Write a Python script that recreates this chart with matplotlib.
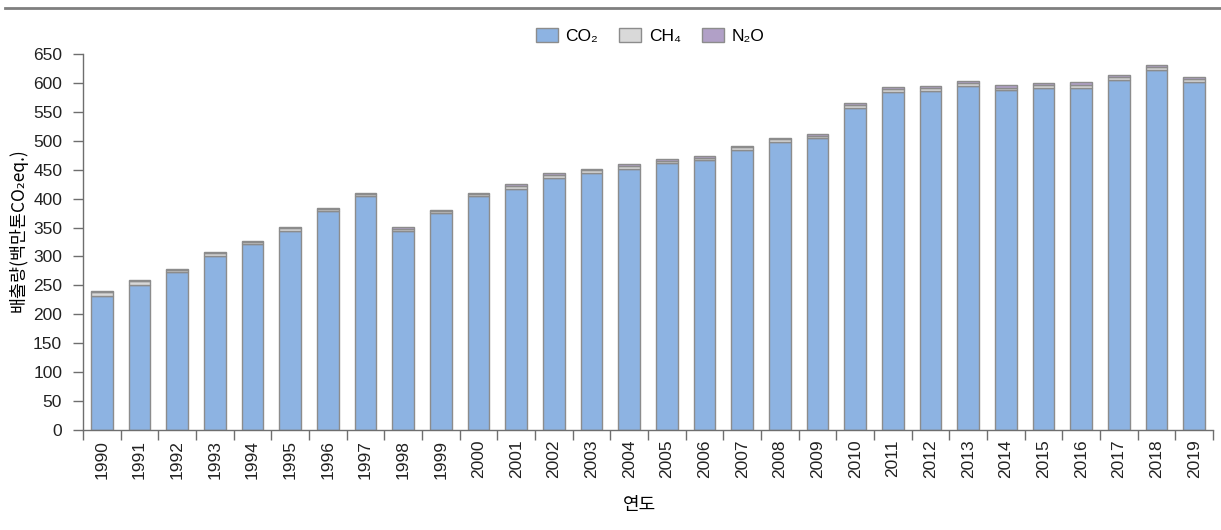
import matplotlib
matplotlib.use("Agg")
import matplotlib.pyplot as plt
from matplotlib.lines import Line2D
import numpy as np

years = [str(y) for y in range(1990, 2020)]
co2 = [232, 250.5, 273, 301.5, 321, 344.5, 378.5, 405, 344.5, 374.5,
       404, 417, 436.5, 445, 452, 461.5, 466, 483.5, 497.5, 504,
       556, 584.5, 585.5, 594, 587, 591, 592, 605.5, 621.5, 601.5]
ch4 = [6.8, 6.5, 3.5, 4.0, 3.5, 4.0, 3.5, 3.5, 3.8, 4.0,
       4.0, 4.5, 4.5, 4.5, 4.5, 4.0, 5.0, 5.0, 5.0, 5.0,
       5.0, 5.0, 5.0, 5.5, 5.0, 5.0, 5.0, 5.0, 5.5, 5.0]
n2o = [1.5, 1.7, 1.5, 1.5, 1.5, 1.8, 1.8, 1.8, 1.8, 2.0,
       2.0, 3.0, 2.8, 2.5, 2.5, 2.5, 2.8, 2.8, 2.8, 3.3,
       3.7, 3.8, 4.0, 4.0, 3.8, 3.5, 3.8, 4.0, 4.5, 3.8]
series_names = ["CO\u2082", "CH\u2084", "N\u2082O"]
yticks = list(range(0, 651, 50))

colors = ["#8DB3E2", "#D9D9D9", "#B1A0C7"]
edge = "#8C8C8C"
axis_col = "#6E6E6E"

plt.rcParams['font.family'] = ['Liberation Sans', 'DejaVu Sans']

fig = plt.figure(figsize=(12.21, 5.30), dpi=100)
ax = fig.add_axes([83/1221, 100/530, (1213-83)/1221, (430-54)/530])

x = np.arange(len(years))
w = 0.58
co2a = np.array(co2); ch4a = np.array(ch4); n2oa = np.array(n2o)
b1 = ax.bar(x, co2a, w, color=colors[0], edgecolor=edge, linewidth=1.0, label=series_names[0])
b2 = ax.bar(x, ch4a, w, bottom=co2a, color=colors[1], edgecolor=edge, linewidth=1.0, label=series_names[1])
b3 = ax.bar(x, n2oa, w, bottom=co2a + ch4a, color=colors[2], edgecolor=edge, linewidth=1.0, label=series_names[2])

ax.set_xlim(-0.5, len(years) - 0.5)
ax.set_ylim(0, 650)
ax.set_yticks(yticks)
ax.set_yticklabels([str(v) for v in yticks], fontsize=12.5, color="#222222")
ax.set_xticks(x)
ax.set_xticklabels(years, rotation=90, fontsize=12.5, color="#222222")
ax.tick_params(axis='x', which='major', length=0, pad=7)
ax.set_xticks(np.arange(-0.5, len(years), 1.0), minor=True)
ax.tick_params(axis='x', which='minor', length=7, width=1.0, color=axis_col)
ax.tick_params(axis='y', length=7, width=1.0, color=axis_col, pad=8)

for s in ['top', 'right']:
    ax.spines[s].set_visible(False)
for s in ['left', 'bottom']:
    ax.spines[s].set_color(axis_col)
    ax.spines[s].set_linewidth(1.0)

fig.text(18/1221, 1 - 230/530, "배출량(백만톤CO\u2082eq.)", fontsize=12.5, rotation=90,
         ha='center', va='center', family=['Noto Sans CJK KR', 'DejaVu Sans'])
fig.text(640/1221, 1 - 505/530, "연도", fontsize=13, ha='center', va='center',
         family=['Noto Sans CJK KR', 'DejaVu Sans'])

fig.legend(handles=[b1, b2, b3], labels=series_names, loc='center',
           bbox_to_anchor=(650/1221, 1 - 36/530), ncol=3, frameon=False,
           fontsize=12.5, handlelength=1.27, handleheight=0.9, columnspacing=1.2,
           handletextpad=0.45)

fig.add_artist(Line2D([5/1221, 1.0], [1 - 8/530, 1 - 8/530], color="#7F7F7F",
                      linewidth=2.0, transform=fig.transFigure))

fig.savefig("out.png", dpi=100)
